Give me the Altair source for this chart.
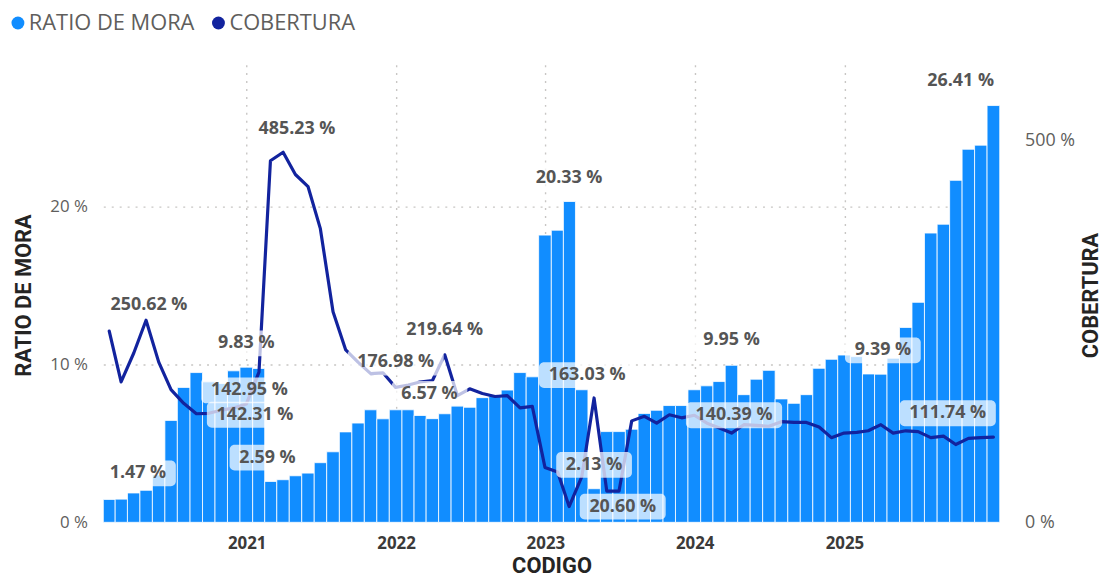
import altair as alt
import pandas as pd

# ---------------- data ----------------
START_MONTH = "2020-01-01"
N_MONTHS = 72

RATIO_DE_MORA = [
    1.45, 1.47, 1.86, 2.03, 3.00, 6.46, 8.55, 9.49, 8.90, 8.80, 9.60, 9.83,      # 2020
    9.75, 2.59, 2.70, 2.95, 3.12, 3.78, 4.47, 5.73, 6.29, 7.13, 6.56, 7.13,      # 2021
    7.13, 6.77, 6.57, 6.88, 7.40, 7.29, 7.90, 8.00, 8.38, 9.49, 9.22, 18.20,     # 2022
    18.51, 20.33, 8.40, 2.13, 5.75, 5.75, 5.90, 6.90, 7.10, 7.40, 7.40, 8.40,    # 2023
    8.65, 8.92, 9.95, 8.09, 9.07, 9.63, 7.82, 7.54, 8.09, 9.76, 10.33, 10.60,    # 2024
    10.50, 9.40, 9.39, 10.40, 12.35, 13.94, 18.33, 18.89, 21.67, 23.64, 23.90, 26.41,  # 2025
]

COBERTURA = [
    250.62, 184, 222, 265, 210, 174, 156, 142.31, 142.95, 147, 150, 155,          # 2020
    197, 474, 485.23, 456, 440, 385, 276, 226, 210, 195, 196, 176.98,             # 2021
    180, 184, 186, 219.64, 166, 175, 169, 165, 166, 150, 152, 72,                 # 2022
    66, 20.60, 60, 163.03, 41, 41, 133, 139, 130, 141, 137, 140.39,               # 2023
    130, 124, 117, 128, 127, 126, 132, 131, 131, 125, 111, 117,                   # 2024
    118, 120, 128, 117, 120, 119, 111, 113, 102, 110, 111, 111.74,                # 2025
]

YEAR_TICKS = [2021, 2022, 2023, 2024, 2025]
LEFT_TICKS = [0, 10, 20]
RIGHT_TICKS = [0, 500]
LEFT_DOMAIN = [0, 29]
RIGHT_DOMAIN = [0, 600]

SERIES = ["RATIO DE MORA", "COBERTURA"]
COLORS = ["#118DFF", "#12239E"]

# which points carry a data label
RATIO_LABEL_MONTHS = [1, 11, 13, 26, 37, 39, 50, 62, 71]
COB_LABEL_MONTHS = [0, 7, 8, 14, 23, 27, 37, 39, 47, 71]

# label placement (pixel offsets from the labelled point) - styling only
RATIO_LABEL_OFFSETS = {1: (17, -26), 11: (0, -24), 13: (-3, -24), 26: (-3, -25),
                       37: (0, -24), 39: (0, -24), 50: (0, -25), 62: (2, -24), 71: (-33, -25)}
COB_LABEL_OFFSETS = {0: (40, -26), 7: (59, 1), 8: (41, -23), 14: (14, -23), 23: (0, -25),
                     27: (0, -25), 37: (54, 0), 39: (-7, -23), 47: (40, 0), 71: (-46, -24)}

# ---------------- table ----------------
months = pd.date_range(START_MONTH, periods=N_MONTHS, freq="MS") + pd.offsets.MonthEnd(0)
mids = [months[i] + (months[i + 1] - months[i]) / 2 for i in range(N_MONTHS - 1)]
starts = [months[0] - (months[1] - months[0]) / 2] + mids
ends = mids + [months[-1] + (months[-1] - months[-2]) / 2]

FMT = "%Y-%m-%dT%H:%M:%S"
df = pd.DataFrame({
    "date": [d.strftime(FMT) for d in months],
    "start": [d.strftime(FMT) for d in starts],
    "end": [d.strftime(FMT) for d in ends],
    "ratio": RATIO_DE_MORA,
    "cob": COBERTURA,
})


def dt(ts):
    return alt.DateTime(year=ts.year, month=ts.month, date=ts.day,
                        hours=ts.hour, minutes=ts.minute)


X_SCALE = alt.Scale(domain=[dt(starts[0]), dt(ends[-1])])
LEFT_SCALE = alt.Scale(domain=LEFT_DOMAIN, nice=False, zero=True)
RIGHT_SCALE = alt.Scale(domain=RIGHT_DOMAIN, nice=False, zero=True)
COLOR_SCALE = alt.Scale(domain=SERIES, range=COLORS)

GRID_COLOR = "#C8C6C4"
LABEL_COLOR = "#605E5C"
TITLE_COLOR = "#252423"
TICK_FONT = "Open Sans"
TITLE_FONT = "Roboto"

x_axis = alt.Axis(
    values=[alt.DateTime(year=y, month=1, date=1) for y in YEAR_TICKS],
    format="%Y", title="CODIGO", domain=False, ticks=False,
    grid=True, gridColor=GRID_COLOR, gridDash=[2, 6], gridWidth=1.4,
    labelFont=TICK_FONT, labelFontSize=17, labelFontWeight="bold", labelColor="#3B3A39",
    labelPadding=13,
    titleFont=TITLE_FONT, titleFontSize=22, titleFontWeight="bold", titleColor=TITLE_COLOR,
    titleY=44, titleBaseline="middle",
)

left_axis = alt.Axis(
    values=LEFT_TICKS, labelExpr="datum.value + ' %'", title="RATIO DE MORA",
    domain=False, ticks=False, grid=True, gridColor=GRID_COLOR, gridDash=[2, 6], gridWidth=1.4,
    gridOpacity={"condition": {"test": "datum.value === 0", "value": 0}, "value": 1},
    labelFont=TICK_FONT, labelFontSize=17, labelColor=LABEL_COLOR, labelPadding=16,
    titleFont=TITLE_FONT, titleFontSize=22, titleFontWeight="bold", titleColor=TITLE_COLOR,
    titleAngle=270, titleX=-80, titleY=232, titleAlign="center", titleBaseline="middle",
)

right_axis = alt.Axis(
    values=RIGHT_TICKS, labelExpr="datum.value + ' %'", title="COBERTURA", orient="right",
    domain=False, ticks=False, grid=False,
    labelFont=TICK_FONT, labelFontSize=18, labelColor=LABEL_COLOR, labelPadding=25,
    titleFont=TITLE_FONT, titleFontSize=22, titleFontWeight="bold", titleColor=TITLE_COLOR,
    titleAngle=270, titleX=91, titleY=232, titleAlign="center", titleBaseline="middle",
)

legend = alt.Legend(
    orient="none", legendX=-97, legendY=-53, direction="horizontal", title=None,
    symbolType="circle", symbolSize=169, labelFont=TICK_FONT, labelFontSize=22,
    labelColor=LABEL_COLOR, columnPadding=13, labelOffset=0, padding=0, labelLimit=400,
    symbolStrokeWidth=0, symbolOpacity=1,
)

bars = alt.Chart(df).transform_calculate(series="'RATIO DE MORA'").mark_bar(
    stroke="white", strokeWidth=0.8
).encode(
    x=alt.X("start:T", scale=X_SCALE, axis=x_axis),
    x2="end:T",
    y=alt.Y("ratio:Q", scale=LEFT_SCALE, axis=left_axis),
    y2=alt.datum(0),
    color=alt.Color("series:N", scale=COLOR_SCALE, legend=legend),
)

line = alt.Chart(df).transform_calculate(series="'COBERTURA'").mark_line(
    strokeWidth=3.2, strokeJoin="round", strokeCap="round"
).encode(
    x=alt.X("date:T", scale=X_SCALE, axis=x_axis),
    y=alt.Y("cob:Q", scale=RIGHT_SCALE, axis=right_axis),
    color=alt.Color("series:N", scale=COLOR_SCALE, legend=legend),
)

LABEL_FONT_SIZE = 18
BOX_H = 26


def text_width(txt):
    digits = sum(c.isdigit() for c in txt)
    return LABEL_FONT_SIZE * (digits * 0.572 + 1.41)


boxes, texts = [], []
for series_vals, idx_list, offsets, scale in [
    (RATIO_DE_MORA, RATIO_LABEL_MONTHS, RATIO_LABEL_OFFSETS, LEFT_SCALE),
    (COBERTURA, COB_LABEL_MONTHS, COB_LABEL_OFFSETS, RIGHT_SCALE),
]:
    for i in idx_list:
        val = series_vals[i]
        txt = f"{val:.2f} %"
        row = pd.DataFrame({"date": [months[i].strftime(FMT)], "v": [val], "label": [txt]})
        dx, dy = offsets[i]
        w = text_width(txt) + 20
        boxes.append(
            alt.Chart(row).mark_rect(
                fill="white", opacity=0.72, cornerRadius=5,
                xOffset=dx - w / 2, x2Offset=dx + w / 2,
                yOffset=dy - BOX_H / 2, y2Offset=dy + BOX_H / 2,
            ).encode(
                x=alt.X("date:T", scale=X_SCALE, axis=x_axis),
                x2=alt.X2("date:T"),
                y=alt.Y("v:Q", scale=scale, axis=None),
                y2=alt.Y2("v:Q"),
            )
        )
        texts.append(
            alt.Chart(row).mark_text(
                dx=dx, dy=dy, font=TICK_FONT, fontWeight="bold", fontSize=LABEL_FONT_SIZE,
                color="#555555", baseline="middle", align="center",
            ).encode(
                x=alt.X("date:T", scale=X_SCALE, axis=x_axis),
                y=alt.Y("v:Q", scale=scale, axis=None),
                text="label:N",
            )
        )

chart = alt.layer(bars, line, *boxes, *texts).resolve_scale(
    y="independent"
).properties(
    width=903, height=461,
    padding={"left": 96, "top": 55, "right": 103, "bottom": 55},
    autosize=alt.AutoSizeParams(type="none"),
    background="white",
).configure_view(stroke=None)

chart.save("out.html", embed_options={"renderer": "svg", "actions": False})
